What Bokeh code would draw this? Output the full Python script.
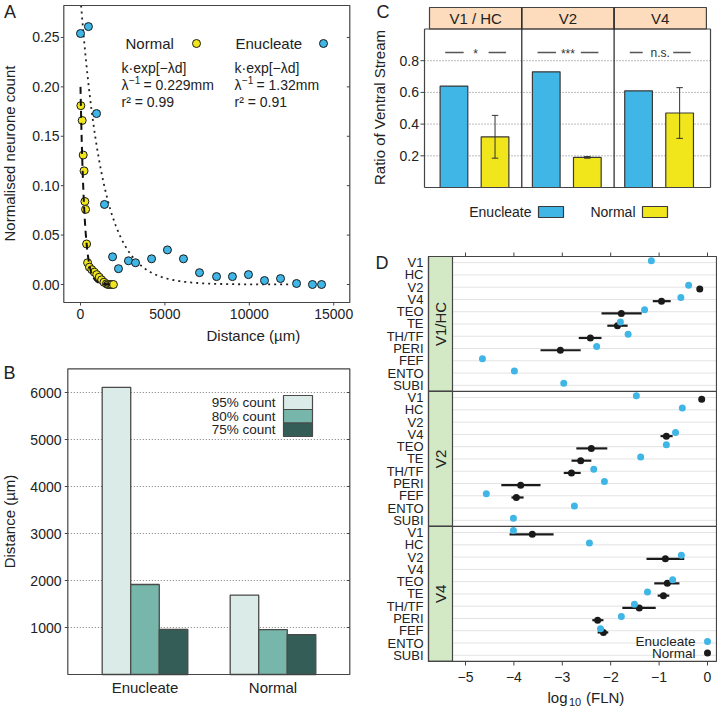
import math
from bokeh.plotting import figure
from bokeh.models import Range1d, Label
from bokeh.layouts import row, column
from bokeh.embed import file_html
from bokeh.resources import INLINE

FONT = "Liberation Sans"
BLUE = "#3fb6e6"
YELLOW = "#f1e61c"
INK = "#222222"
EDGE = "#444444"

# ---------------- data ----------------
# Panel A : normalised neurone count against distance (um)
enuc_dist = [0, 470, 950, 1420, 1900, 2250, 2840, 3260, 4210, 5150, 6100, 7050,
             8060, 9000, 9950, 10900, 11850, 12800, 13740, 14280]
enuc_count = [0.254, 0.261, 0.173, 0.081, 0.028, 0.016, 0.024, 0.022, 0.026, 0.035,
              0.026, 0.012, 0.008, 0.008, 0.010, 0.004, 0.006, 0.001, 0.000, 0.000]
norm_dist = [20, 100, 160, 210, 260, 300, 360, 420, 530, 670, 820, 960, 1110, 1250,
             1390, 1540, 1620, 1700, 1780, 1860, 1950]
norm_count = [0.181, 0.166, 0.131, 0.115, 0.084, 0.076, 0.041, 0.022, 0.0175, 0.015,
              0.0125, 0.010, 0.0074, 0.0047, 0.0023, 0.0007, 0.0, 0.0, 0.0, 0.0, 0.0]
fit_norm_k, fit_norm_inv_lambda = 0.20, 229.0     # um
fit_enuc_k, fit_enuc_inv_lambda = 0.29, 1320.0    # um
fit_norm_r2, fit_enuc_r2 = "0.99", "0.91"
a_xticks = [0, 5000, 10000, 15000]
a_yticks = [0.0, 0.05, 0.10, 0.15, 0.20, 0.25]

# Panel B : distance containing a given share of the count
b_groups = ["Enucleate", "Normal"]
b_series = ["95% count", "80% count", "75% count"]
b_95 = [6110, 1690]
b_80 = [1915, 955]
b_75 = [960, 850]
b_yticks = [1000, 2000, 3000, 4000, 5000, 6000]

# Panel C : ratio of ventral stream
c_targets = ["V1 / HC", "V2", "V4"]
c_enuc = [0.64, 0.73, 0.61]
c_norm = [0.32, 0.19, 0.47]
c_norm_err = [0.135, 0.005, 0.16]
c_sig = ["*", "***", "n.s."]
c_yticks = [0.2, 0.4, 0.6, 0.8]

# Panel D : log10(FLN) per source area, for each injected target
d_targets = ["V1/HC", "V2", "V4"]
d_areas = ["V1", "HC", "V2", "V4", "TEO", "TE", "TH/TF", "PERI", "FEF", "ENTO", "SUBI"]
d_xticks = [-5, -4, -3, -2, -1, 0]
N = None
d_enuc = {
    "V1/HC": [-1.16, N, -0.39, -0.55, -1.30, -1.80, -1.64, -2.29, -4.65, -3.99, -2.97],
    "V2":    [-1.47, -0.52, N, -0.66, -0.85, -1.38, -2.35, -2.13, -4.57, -2.75, -4.01],
    "V4":    [-4.01, -2.44, -0.54, N, -0.72, -1.24, -1.51, -1.78, -2.21, N, N],
}
d_norm = {
    "V1/HC": [N, N, -0.16, -0.95, -1.78, -1.86, -2.42, -3.04, N, N, N],
    "V2":    [-0.12, N, N, -0.85, -2.40, -2.62, -2.81, -3.86, -3.95, N, N],
    "V4":    [-3.62, N, -0.87, N, -0.83, -0.91, -1.41, -2.27, -2.15, N, N],
}
d_norm_lo = {
    "V1/HC": [N, N, N, -1.13, -2.19, -2.07, -2.66, -3.45, N, N, N],
    "V2":    [N, N, N, -0.97, -2.71, -2.81, -2.97, -4.26, -4.05, N, N],
    "V4":    [-4.09, N, -1.26, N, -1.10, -1.03, -1.76, -2.38, -2.27, N, N],
}
d_norm_hi = {
    "V1/HC": [N, N, N, -0.76, -1.36, -1.65, -2.19, -2.62, N, N, N],
    "V2":    [N, N, N, -0.72, -2.07, -2.40, -2.62, -3.45, -3.80, N, N],
    "V4":    [-3.18, N, -0.48, N, -0.58, -0.79, -1.07, -2.15, -2.05, N, N],
}


# ---------------- helpers ----------------
def lab(p, x, y, text, size="15px", align="left", baseline="middle", angle=0.0, color=INK):
    p.add_layout(Label(x=x, y=y, text=text, text_font=FONT, text_font_size=size,
                       text_align=align, text_baseline=baseline, angle=angle,
                       text_color=color))


def canvas(w, h, xr, yr):
    # the plotting frame fills the whole canvas; axes are drawn by hand
    p = figure(width=w, height=h, x_range=Range1d(*xr), y_range=Range1d(*yr), title=None,
               toolbar_location=None, output_backend="svg",
               x_axis_type=None, y_axis_type=None,
               min_border_left=0, min_border_right=0, min_border_top=0, min_border_bottom=0)
    p.grid.visible = False
    p.outline_line_color = None
    p.background_fill_color = "white"
    p.border_fill_color = "white"
    return p


def hseg(p, x0, x1, ys, **kw):
    p.segment(x0=[x0] * len(ys), x1=[x1] * len(ys), y0=list(ys), y1=list(ys), **kw)


def vseg(p, xs, y0, y1, **kw):
    p.segment(x0=list(xs), x1=list(xs), y0=[y0] * len(xs), y1=[y1] * len(xs), **kw)


# ================= Panel A =================
def xa(px): return (px - 80.0) * 59.24
def ya(py): return (284.0 - py) * 0.001012

pA = canvas(360, 345, (xa(0), xa(360)), (ya(345), ya(0)))
AL, AR, AT, AB = xa(63.3), xa(349.3), ya(5), ya(302)

# fitted curves k*exp(-d/lambda^-1)
d_start = fit_enuc_inv_lambda * math.log(fit_enuc_k / AT)
fe_x = [d_start + i * 50.0 for i in range(0, 250)]
fe_y = [fit_enuc_k * math.exp(-d / fit_enuc_inv_lambda) for d in fe_x]
pA.line(fe_x, fe_y, line_color="#222222", line_width=1.8, line_dash="2 4")
pA.scatter(enuc_dist, enuc_count, size=8, marker="circle", fill_color=BLUE,
           line_color="#1a1a1a", line_width=1)
pA.scatter(norm_dist, norm_count, size=8, marker="circle", fill_color=YELLOW,
           line_color="#1a1a1a", line_width=1)
fn_x = [i * 10.0 for i in range(0, 201)]
fn_y = [fit_norm_k * math.exp(-d / fit_norm_inv_lambda) for d in fn_x]
pA.line(fn_x, fn_y, line_color="#111111", line_width=2, line_dash="7 5")

# frame, ticks, tick labels
pA.quad(left=AL, right=AR, top=AT, bottom=AB, fill_color=None, line_color=EDGE, line_width=1.2)
hseg(pA, xa(60.3), AL, a_yticks, line_color=EDGE, line_width=1)
hseg(pA, xa(346.3), AR, a_yticks, line_color=EDGE, line_width=1)
vseg(pA, a_xticks, AB, ya(305), line_color=EDGE, line_width=1)
for t in a_yticks:
    lab(pA, xa(59), t, "%.2f" % t, size="14px", align="right")
for t in a_xticks:
    lab(pA, t, ya(313.5), "%d" % t, size="14px", align="center")

# in-plot legend / annotations
lab(pA, xa(125), ya(43), "Normal")
pA.scatter([xa(196)], [ya(43)], size=8, marker="circle", fill_color=YELLOW, line_color="#1a1a1a")
lab(pA, xa(235), ya(43), "Enucleate")
pA.scatter([xa(323)], [ya(43)], size=8, marker="circle", fill_color=BLUE, line_color="#1a1a1a")
for x0, inv_l, r2 in [(121, fit_norm_inv_lambda, fit_norm_r2), (234, fit_enuc_inv_lambda, fit_enuc_r2)]:
    lab(pA, xa(x0), ya(67), "k\u00b7exp[\u2212\u03bbd]", size="14px")
    lab(pA, xa(x0), ya(84), "\u03bb", size="14px")
    lab(pA, xa(x0 + 7.5), ya(79), "\u22121", size="10px")
    mm = inv_l / 1000.0
    txt = ("%.3f" % mm) if mm < 1 else ("%.2f" % mm)
    lab(pA, xa(x0 + 22), ya(84), "= " + txt + "mm", size="14px")
    lab(pA, xa(x0), ya(101), "r\u00b2 = " + r2, size="14px")

lab(pA, xa(206), ya(335), "Distance (\u00b5m)")
lab(pA, xa(9), ya(153), "Normalised neurone count", align="center", angle=math.pi / 2)
lab(pA, xa(9.5), ya(11.5), "A", size="18px", align="center")

# ================= Panel B =================
def xb(px): return 1 + (px - 144.5) / 128.0
def yb(py): return (674.0 - py) / 47.0 * 1000

pB = canvas(360, 365, (xb(0), xb(360)), (yb(710), yb(345)))
BL, BR, BT, BB = xb(67.3), xb(349.3), yb(368.3), 0.0
hseg(pB, BL, BR, b_yticks, line_color="#7a7a7a", line_width=1, line_dash="1 2")

bw = 0.223
b_colors = ["#dbebe8", "#77b6ab", "#335d56"]
gx = [i + 1 for i in range(len(b_groups))]
for k, (vals, col) in enumerate(zip([b_95, b_80, b_75], b_colors)):
    pB.vbar(x=[g + (k - 1) * bw for g in gx], top=vals, bottom=0, width=bw,
            fill_color=col, line_color="#4a4a4a", line_width=1.3)
pB.quad(left=BL, right=BR, top=BT, bottom=BB, fill_color=None, line_color=EDGE, line_width=1.2)
hseg(pB, xb(64.3), BL, b_yticks, line_color=EDGE, line_width=1)
hseg(pB, xb(346.3), BR, b_yticks, line_color=EDGE, line_width=1)
for t in b_yticks:
    lab(pB, xb(61), t, "%d" % t, size="14px", align="right")
for g, name in zip(gx, b_groups):
    lab(pB, g, yb(687), name, size="15px", align="center")

# legend (label left of swatch)
ly = [(395, 409), (409, 422.5), (422.5, 436)]
for (t, b), name, col in zip(ly, b_series, b_colors):
    pB.quad(left=xb(283), right=xb(312), top=yb(t), bottom=yb(b), fill_color=col,
            line_color="#4a4a4a", line_width=1.2)
    lab(pB, xb(275), yb((t + b) / 2.0), name, size="13.5px", align="right")
lab(pB, xb(9), yb(521), "Distance (\u00b5m)", align="center", angle=math.pi / 2)
lab(pB, xb(9), yb(372.5), "B", size="18px", align="center")

# ================= Panel C =================
def xc(px): return (px - 429.0) / 92.3
def yc(py): return (187.0 - py) / 158.5

pC = canvas(357, 235, (xc(360), xc(717)), (yc(235), yc(0)))
CL, CR = xc(424), xc(710)
hseg(pC, CL, CR, c_yticks, line_color="#7a7a7a", line_width=1, line_dash="1 2")

nC = len(c_targets)
htop = yc(7)
pC.quad(left=list(range(nC)), right=[i + 1 for i in range(nC)], top=[htop] * nC,
        bottom=[1.0] * nC, fill_color="#fcdcbd", line_color=EDGE, line_width=1.2)
for i, t in enumerate(c_targets):
    lab(pC, i + 0.5, (1.0 + htop) / 2.0, t, align="center")
pC.vbar(x=[i + 0.265 for i in range(nC)], top=c_enuc, bottom=0, width=0.30,
        fill_color=BLUE, line_color="#3a3a3a", line_width=1.2)
pC.vbar(x=[i + 0.71 for i in range(nC)], top=c_norm, bottom=0, width=0.30,
        fill_color=YELLOW, line_color="#3a3a3a", line_width=1.2)
ex = [i + 0.71 for i in range(nC)]
lo = [v - e for v, e in zip(c_norm, c_norm_err)]
hi = [v + e for v, e in zip(c_norm, c_norm_err)]
pC.segment(x0=ex, y0=lo, x1=ex, y1=hi, line_color="#333333", line_width=1)
pC.segment(x0=[x - 0.035 for x in ex], y0=lo, x1=[x + 0.035 for x in ex], y1=lo,
           line_color="#333333", line_width=1)
pC.segment(x0=[x - 0.035 for x in ex], y0=hi, x1=[x + 0.035 for x in ex], y1=hi,
           line_color="#333333", line_width=1)
# frame lines
hseg(pC, CL, CR, [0.0, 1.0], line_color=EDGE, line_width=1.2)
vseg(pC, [CL, CR], 0.0, 1.0, line_color=EDGE, line_width=1.2)
vseg(pC, [1, 2], 0.0, htop, line_color="#222222", line_width=1.2)
hseg(pC, xc(420), CL, c_yticks, line_color=EDGE, line_width=1)
for t in c_yticks:
    lab(pC, xc(418.5), t, "%.1f" % t, size="14px", align="right")
# significance marks
sig_y = yc(52)
for i, s in enumerate(c_sig):
    left_end = 0.37 if s != "n.s." else 0.31
    pC.segment(x0=[i + 0.17, i + 0.64], y0=[sig_y, sig_y], x1=[i + left_end, i + 0.83],
               y1=[sig_y, sig_y], line_color="#555555", line_width=1.3)
    lab(pC, i + 0.5, sig_y - (0.012 if s != "n.s." else 0.0), s, size="12px",
        align="center", color="#333333")
# legend
for txt, bl, col in [("Enucleate", 538, BLUE), ("Normal", 642, YELLOW)]:
    pC.quad(left=xc(bl), right=xc(bl + 25), top=yc(206), bottom=yc(217), fill_color=col,
            line_color="#3a3a3a", line_width=1.2)
    lab(pC, xc(bl - 7), yc(211.5), txt, size="14px", align="right")
lab(pC, xc(379), yc(107), "Ratio of Ventral Stream", align="center", angle=math.pi / 2)
lab(pC, xc(382.5), yc(11), "C", size="18px", align="center")

# ================= Panel D =================
def xd(px): return (px - 707.0) / 48.4
def yd(py): return 0.5 - (py - 256.0) / 12.27


nA = len(d_areas)
nRows = nA * len(d_targets)
pD = canvas(357, 475, (xd(360), xd(717)), (yd(710), yd(235)))
DL, DS, DR, DT, DB = xd(428), xd(452), xd(716), 0.5, 0.5 - nRows

hseg(pD, DS, DR, [-i for i in range(nRows)], line_color="#e3e3e3", line_width=1)
for s, tgt in enumerate(d_targets):
    top = 0.5 - s * nA
    pD.quad(left=DL, right=DS, top=top, bottom=top - nA,
            fill_color="#d3e9c6", line_color=EDGE, line_width=1.2)
    lab(pD, (DL + DS) / 2.0, top - nA / 2.0, tgt, align="center", angle=math.pi / 2)
hseg(pD, DL, DR, [0.5 - nA, 0.5 - 2 * nA], line_color=EDGE, line_width=1.2)
pD.quad(left=DL, right=DR, top=DT, bottom=DB, fill_color=None, line_color=EDGE, line_width=1.2)

ebx, eby, nbx, nby, elo, ehi, ey = [], [], [], [], [], [], []
for s, tgt in enumerate(d_targets):
    for i in range(nA):
        r = -(s * nA + i)
        if d_enuc[tgt][i] is not None:
            ebx.append(d_enuc[tgt][i]); eby.append(r + 0.16)
        if d_norm[tgt][i] is not None:
            nbx.append(d_norm[tgt][i]); nby.append(r - 0.14)
        if d_norm_lo[tgt][i] is not None:
            elo.append(d_norm_lo[tgt][i]); ehi.append(d_norm_hi[tgt][i]); ey.append(r - 0.14)
pD.segment(x0=elo, y0=ey, x1=ehi, y1=ey, line_color="#1a1a1a", line_width=2.2)
pD.scatter(nbx, nby, size=7, marker="circle", fill_color="#1a1a1a", line_color=None)
pD.scatter(ebx, eby, size=7, marker="circle", fill_color=BLUE, line_color=None)

# axes by hand
for i in range(nRows):
    lab(pD, xd(423), -i, d_areas[i % nA], size="13px", align="right")
vseg(pD, d_xticks, DT, yd(252), line_color=EDGE, line_width=1)
vseg(pD, d_xticks, DB, yd(665), line_color=EDGE, line_width=1)
for t in d_xticks:
    lab(pD, t, yd(676), ("\u2212%d" % -t) if t < 0 else "0", size="14px", align="center")

# legend
lab(pD, xd(695), yd(641), "Enucleate", size="13.5px", align="right")
lab(pD, xd(695), yd(652.5), "Normal", size="13.5px", align="right")
pD.scatter([xd(707)], [yd(641)], size=7, marker="circle", fill_color=BLUE, line_color=None)
pD.scatter([xd(707)], [yd(652.5)], size=7, marker="circle", fill_color="#1a1a1a", line_color=None)

# x-axis title log10 (FLN)
lab(pD, xd(547), yd(697), "log", size="15px")
lab(pD, xd(568.5), yd(701), "10", size="11px")
lab(pD, xd(585.5), yd(697), "(FLN)", size="15px")
lab(pD, xd(381.5), yd(262.5), "D", size="18px", align="center")

layout = row(column(pA, pB), column(pC, pD))
open("out.html", "w").write(file_html(layout, INLINE))
